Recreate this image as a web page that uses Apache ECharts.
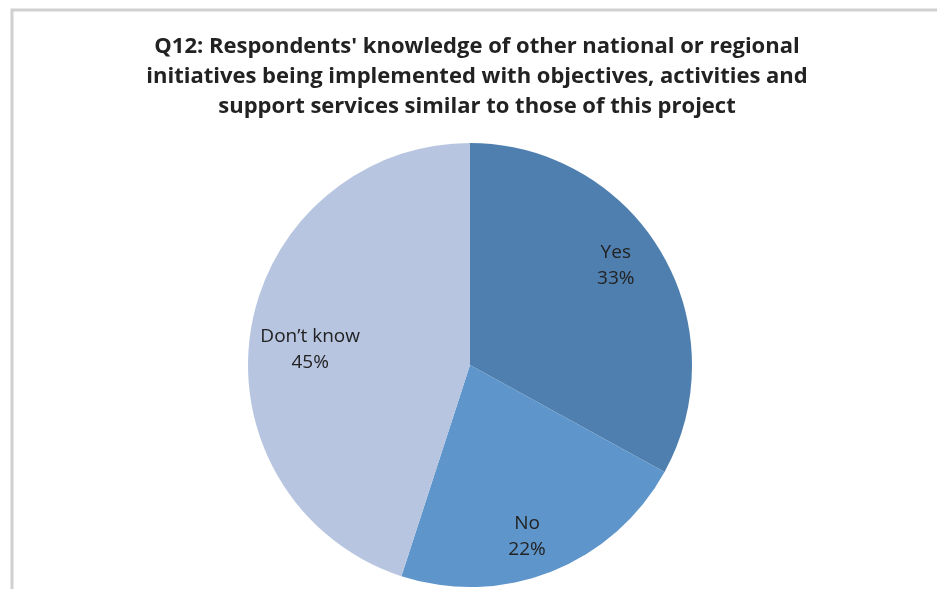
<!DOCTYPE html>
<html lang="en">
<head>
    <meta charset="UTF-8">
    <title>Q12 knowledge of similar initiatives</title>
    <script src="https://cdn.jsdelivr.net/npm/echarts@6/dist/echarts.min.js"></script>
    <style>
        html, body { margin: 0; padding: 0; background: #fff; }
        #main { width: 937px; height: 589px; }
    </style>
</head>
<body>
<div id="main"></div>
<script>
    // data
    let categories = ['Yes', 'No', 'Don\u2019t know'];
    let shares = [33, 22, 45];
    let sliceColors = ['#4f7fae', '#5e95ca', '#b7c5e0'];
    let titleLines = [
        "Q12: Respondents' knowledge of other national or regional",
        'initiatives being implemented with objectives, activities and',
        'support services similar to those of this project'
    ];
    // small nudges so the labels sit where Excel put them
    let labelNudge = [[-4, -11], [-7, 10], [12, 12]];

    let pieData = categories.map((name, i) => ({
        name: name,
        value: shares[i],
        itemStyle: {color: sliceColors[i]}
    }));

    let myChart = echarts.init(document.getElementById('main'));
    let option = {
        animation: false,
        graphic: [
            {
                type: 'rect',
                shape: {x: 12, y: 10, width: 1200, height: 1200},
                style: {fill: 'none', stroke: '#d0d0d0', lineWidth: 3}
            },
            {
                type: 'text',
                x: 477,
                y: 32,
                style: {
                    text: titleLines.join('\n'),
                    textAlign: 'center',
                    fill: '#222',
                    font: 'bold 22px "Open Sans"',
                    lineHeight: 30
                }
            }
        ],
        series: [
            {
                // the visible pie
                type: 'pie',
                center: [470, 365],
                radius: [0, 222],
                startAngle: 90,
                clockwise: true,
                silent: true,
                label: {show: false},
                itemStyle: {borderWidth: 0},
                data: pieData
            },
            {
                // transparent ring only used to put labels further out
                type: 'pie',
                center: [470, 365],
                radius: [120, 222],
                startAngle: 90,
                clockwise: true,
                silent: true,
                itemStyle: {color: 'rgba(0,0,0,0)'},
                label: {
                    show: true,
                    position: 'inside',
                    formatter: '{b}\n{d}%',
                    color: '#222',
                    fontFamily: 'Open Sans',
                    fontSize: 19,
                    lineHeight: 26
                },
                labelLayout: function (params) {
                    let n = labelNudge[params.dataIndex];
                    return {dx: n[0], dy: n[1]};
                },
                data: categories.map((name, i) => ({name: name, value: shares[i]}))
            }
        ]
    };
    myChart.setOption(option);
</script>
</body>
</html>
